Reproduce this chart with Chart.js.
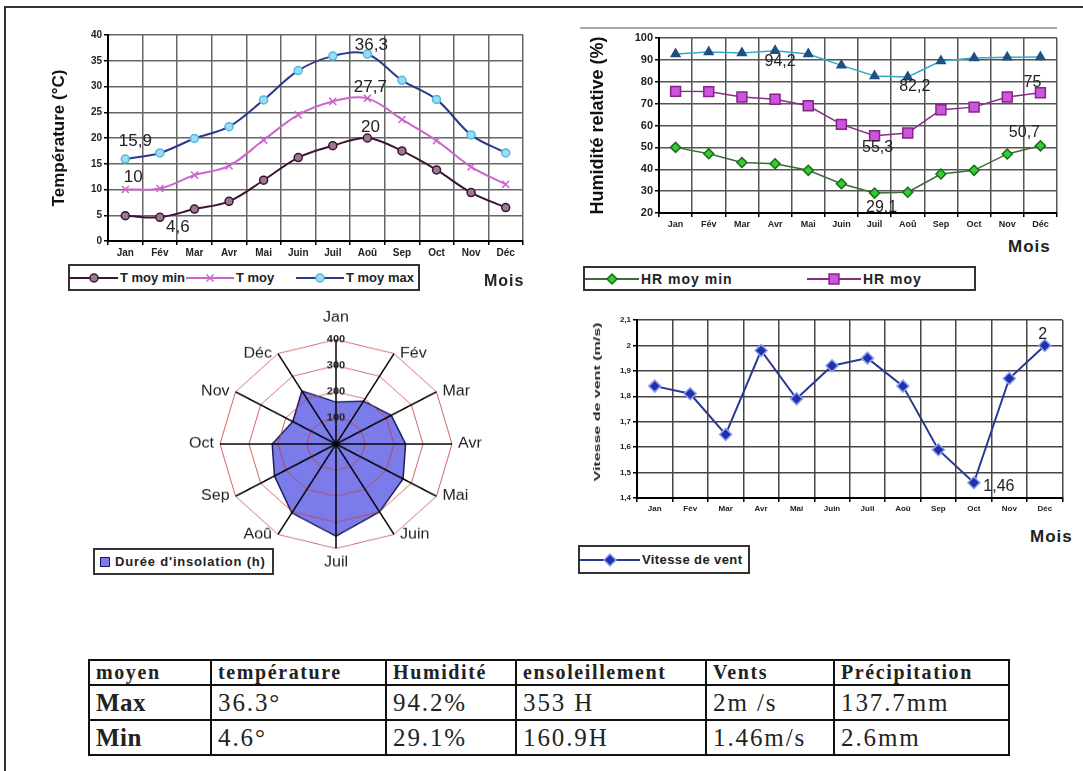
<!DOCTYPE html>
<html lang="fr">
<head>
  <meta charset="UTF-8" />
  <title>Synthèse climatique mensuelle</title>
  <script src="https://cdn.jsdelivr.net/npm/chart.js"></script>
  <style>
    body { margin: 0; width: 1083px; height: 771px; position: relative; overflow: hidden; background: #fff;
           font-family: Arial, "Liberation Sans", sans-serif; color: #222; }
    .cadre { position: absolute; left: 4px; top: 6px; width: 1100px; height: 800px; border: 2px solid #333; }
    .bloc { position: absolute; }
    .ovale { transform: scale(1, 0.9); transform-origin: 50% 50%; }
    .trait { position: absolute; height: 2px; background: #aaa; }
    .legende { position: absolute; box-sizing: border-box; border: 2px solid #333; background: #fff;
               display: flex; align-items: center; font-size: 13px; font-weight: bold; white-space: nowrap; overflow: hidden; }
    .legende .item { display: flex; align-items: center; flex: none; }
    .legende canvas { margin-right: 2px; }
    .mois { position: absolute; font-weight: bold; font-size: 16px; letter-spacing: 1px; }
    .titreVent { position: absolute; left: 597px; top: 402px; font-size: 8px; font-weight: bold; white-space: nowrap;
                 transform: translate(-50%, -50%) rotate(-90deg) scale(2, 1.1); }
    table { position: absolute; left: 88px; top: 659px; border-collapse: collapse; border: 2px solid #111;
            font-family: "Liberation Serif", "Times New Roman", serif; table-layout: fixed; }
    td, th { border: 2px solid #111; padding: 0 0 0 6px; text-align: left; overflow: hidden; white-space: nowrap; }
    th { font-size: 20px; font-weight: bold; height: 23px; letter-spacing: 1.6px; }
    td { font-size: 25px; height: 33px; letter-spacing: 1.9px; }
    td.tete { font-weight: bold; letter-spacing: 0.5px; }
  </style>
</head>
<body>
  <div class="cadre"></div>
  <div class="trait" style="left:580px; top:27px; width:477px;"></div>

  <div class="bloc" style="left:45px; top:22px; width:495px; height:250px;"><canvas id="grTemp"></canvas></div>
  <div class="bloc" style="left:585px; top:25px; width:485px; height:210px;"><canvas id="grHum"></canvas></div>
  <div class="bloc ovale" style="left:166px; top:274px; width:340px; height:340px;"><canvas id="grInso"></canvas></div>
  <div class="bloc" style="left:580px; top:310px; width:490px; height:210px;"><canvas id="grVent"></canvas></div>
  <div class="titreVent">Vitesse de vent (m/s)</div>

  <div class="legende" id="legTemp" style="left:68px; top:264px; width:352px; height:27px;"></div>
  <div class="legende" id="legHum" style="left:583px; top:266px; width:393px; height:25px; font-size:14px; letter-spacing:1px;"></div>
  <div class="legende" id="legInso" style="left:93px; top:548px; width:181px; height:27px; letter-spacing:0.8px;"></div>
  <div class="legende" id="legVent" style="left:578px; top:545px; width:172px; height:29px; letter-spacing:0.4px;"></div>

  <div class="mois" style="left:484px; top:272px;">Mois</div>
  <div class="mois" style="left:1008px; top:237px; font-size:17px;">Mois</div>
  <div class="mois" style="left:1030px; top:527px; font-size:17px;">Mois</div>

  <table id="tableau"></table>

  <script>
    // données
    const mois = ['Jan', 'Fév', 'Mar', 'Avr', 'Mai', 'Juin', 'Juil', 'Aoû', 'Sep', 'Oct', 'Nov', 'Déc'];

    const nomsTemp = ['T moy min', 'T moy', 'T moy max'];
    const tMin = [4.9, 4.6, 6.2, 7.7, 11.8, 16.2, 18.5, 20, 17.5, 13.8, 9.4, 6.5];
    const tMoy = [10, 10.2, 12.8, 14.6, 19.6, 24.5, 27.1, 27.7, 23.6, 19.5, 14.4, 11];
    const tMax = [15.9, 17.1, 19.9, 22.2, 27.4, 33.1, 35.9, 36.3, 31.2, 27.5, 20.6, 17.1];

    const nomsHum = ['HR moy min', 'HR moy', 'HR moy max'];
    const hrMin = [50, 47.1, 43.1, 42.5, 39.5, 33.4, 29.1, 29.5, 37.8, 39.5, 47, 50.7];
    const hrMoy = [75.6, 75.5, 73, 72, 69, 60.5, 55.3, 56.6, 67.2, 68.4, 73, 75];
    const hrMax = [92.7, 93.6, 93.2, 94.2, 92.7, 87.5, 82.6, 82.2, 89.5, 90.9, 91.2, 91.3];

    const nomInso = "Durée d'insolation (h)";
    const insolation = [160.9, 190, 220, 240, 267, 300, 353, 305, 245, 220, 172, 235];

    const nomVent = 'Vitesse de vent';
    const vent = [1.84, 1.81, 1.65, 1.98, 1.79, 1.92, 1.95, 1.84, 1.59, 1.46, 1.87, 2];

    const colonnes = ['moyen', 'température', 'Humidité', 'ensoleillement', 'Vents', 'Précipitation'];
    const ligneMax = ['Max', '36.3°', '94.2%', '353 H', '2m /s', '137.7mm'];
    const ligneMin = ['Min', '4.6°', '29.1%', '160.9H', '1.46m/s', '2.6mm'];
    const largeurs = [122, 175, 130, 190, 128, 175];

    const virgule = v => String(Math.round(v * 100) / 100).replace('.', ',');

    // étiquettes de valeurs posées à côté de certains points
    const etiquettes = {
      id: 'etiquettes',
      afterDatasetsDraw(chart, args, opts) {
        const ctx = chart.ctx;
        (opts.items || []).forEach(it => {
          const pt = chart.getDatasetMeta(it.ds).data[it.i];
          const v = chart.data.datasets[it.ds].data[it.i];
          ctx.save();
          ctx.font = opts.font;
          ctx.fillStyle = '#222';
          ctx.textAlign = 'center';
          ctx.textBaseline = 'middle';
          ctx.fillText(virgule(v), pt.x + it.dx, pt.y + it.dy);
          ctx.restore();
        });
      }
    };

    // noms des mois autour du radar, posés comme dans Excel (centrés sur le sommet)
    const moisRadar = {
      id: 'moisRadar',
      afterDraw(chart, args, opts) {
        const r = chart.scales.r, ctx = chart.ctx;
        ctx.save();
        ctx.font = opts.font;
        ctx.fillStyle = '#222';
        chart.data.labels.forEach((lab, i) => {
          const p = r.getPointPosition(i, r.drawingArea);
          const a = r.getIndexAngle(i);
          const s = Math.sin(a);
          if (Math.abs(s) < 0.01) {
            const haut = Math.cos(a) > 0;
            ctx.textAlign = 'center';
            ctx.textBaseline = haut ? 'bottom' : 'top';
            ctx.fillText(lab, p.x, haut ? p.y - opts.ecartHaut : p.y + opts.ecartBas);
          } else {
            ctx.textAlign = s > 0 ? 'left' : 'right';
            ctx.textBaseline = 'middle';
            ctx.fillText(lab, p.x + (s > 0 ? opts.ecart : -opts.ecart), p.y);
          }
        });
        ctx.restore();
      }
    };

    function serie(label, data, ligne, fond, bord, forme, rayon, courbe) {
      return {
        label, data,
        borderColor: ligne, borderWidth: 2,
        pointBackgroundColor: fond, pointBorderColor: bord, pointBorderWidth: 1.5,
        pointStyle: forme, pointRadius: rayon,
        tension: courbe || 0, fill: false
      };
    }

    function axeX(taille, hauteur, grille) {
      return {
        type: 'category', offset: true,
        grid: { offset: true, color: grille, lineWidth: 1.5, tickLength: 4, tickColor: '#000' },
        border: { color: '#000', width: 2 },
        ticks: { font: { size: taille, weight: 'bold' }, color: '#222', maxRotation: 0, autoSkip: false, padding: 2 },
        afterFit: s => { s.height = hauteur; }
      };
    }

    function axeY(min, max, pas, titre, tailleTicks, tailleTitre, largeur, grille, format) {
      return {
        min, max,
        grid: { color: grille, lineWidth: 1.5, tickLength: 4, tickColor: '#000' },
        border: { color: '#000', width: 2 },
        ticks: { stepSize: pas, font: { size: tailleTicks, weight: 'bold' }, color: '#222', padding: 2,
                 callback: format || (v => v) },
        title: { display: !!titre, text: titre, font: { size: tailleTitre, weight: 'bold' }, color: '#111',
                 padding: { top: 0, bottom: 2 } },
        afterFit: s => { s.width = largeur; }
      };
    }

    function baseOptions(padding) {
      return {
        responsive: true, maintainAspectRatio: false, animation: false,
        layout: { padding },
        plugins: { legend: { display: false }, tooltip: { enabled: false } }
      };
    }

    // petit dessin de légende : trait + marqueur
    function glyphe(ds, largeur) {
      const c = document.createElement('canvas');
      c.width = largeur; c.height = 16;
      const g = c.getContext('2d');
      g.strokeStyle = ds.borderColor; g.lineWidth = 2;
      g.beginPath(); g.moveTo(0, 8); g.lineTo(largeur, 8); g.stroke();
      g.fillStyle = ds.pointBackgroundColor; g.strokeStyle = ds.pointBorderColor;
      g.lineWidth = ds.pointBorderWidth;
      Chart.helpers.drawPoint(g, { pointStyle: ds.pointStyle, radius: ds.pointRadius, borderWidth: ds.pointBorderWidth, rotation: 0 }, largeur / 2, 8);
      return c;
    }

    function legende(id, datasets, largeursItems, largeurTrait) {
      const boite = document.getElementById(id);
      datasets.forEach((ds, k) => {
        const item = document.createElement('div');
        item.className = 'item';
        item.style.width = largeursItems[k] + 'px';
        item.appendChild(glyphe(ds, largeurTrait));
        const t = document.createElement('span');
        t.textContent = ds.label;
        item.appendChild(t);
        boite.appendChild(item);
      });
    }

    // --- Températures ---
    const dsTemp = [
      serie(nomsTemp[0], tMin, '#3d1434', '#9a7a92', '#3d1434', 'circle', 4, 0.35),
      serie(nomsTemp[1], tMoy, '#cc66cc', '#dd88dd', '#cc66cc', 'crossRot', 5, 0.35),
      serie(nomsTemp[2], tMax, '#2a3b8f', '#9adcf2', '#55b8e0', 'circle', 4, 0.35)
    ];
    const optTemp = baseOptions({ top: 13, right: 17, bottom: 0, left: 4 });
    optTemp.scales = {
      x: axeX(10, 31, '#666'),
      y: axeY(0, 40, 5, 'Température (°C)', 10, 17, 59, '#666')
    };
    optTemp.plugins.etiquettes = {
      font: '17px Arial',
      items: [
        { ds: 2, i: 0, dx: 10, dy: -18 },
        { ds: 1, i: 0, dx: 8, dy: -12 },
        { ds: 0, i: 1, dx: 18, dy: 10 },
        { ds: 2, i: 7, dx: 4, dy: -9 },
        { ds: 1, i: 7, dx: 3, dy: -11 },
        { ds: 0, i: 7, dx: 3, dy: -11 }
      ]
    };
    new Chart(document.getElementById('grTemp'), {
      type: 'line', data: { labels: mois, datasets: dsTemp }, options: optTemp, plugins: [etiquettes]
    });
    legende('legTemp', dsTemp, [116, 110, 130], 48);

    // --- Humidité ---
    const dsHum = [
      serie(nomsHum[0], hrMin, '#3d6b3d', '#33cc33', '#1a6b1a', 'rectRot', 5),
      serie(nomsHum[1], hrMoy, '#8a2a8a', '#cc55dd', '#882288', 'rect', 7),
      serie(nomsHum[2], hrMax, '#33aacc', '#1f5080', '#1f5080', 'triangle', 5)
    ];
    dsHum.forEach(d => { d.borderWidth = 1.5; });
    const optHum = baseOptions({ top: 13, right: 13, bottom: 0, left: 2 });
    optHum.scales = {
      x: axeX(9, 22, '#555'),
      y: axeY(20, 100, 10, 'Humidité relative (%)', 11, 18, 72, '#555')
    };
    optHum.plugins.etiquettes = {
      font: '16px Arial',
      items: [
        { ds: 2, i: 3, dx: 5, dy: 11 },
        { ds: 2, i: 7, dx: 7, dy: 10 },
        { ds: 1, i: 11, dx: -8, dy: -10 },
        { ds: 1, i: 6, dx: 3, dy: 12 },
        { ds: 0, i: 6, dx: 7, dy: 14 },
        { ds: 0, i: 11, dx: -16, dy: -13 }
      ]
    };
    new Chart(document.getElementById('grHum'), {
      type: 'line', data: { labels: mois, datasets: dsHum }, options: optHum, plugins: [etiquettes]
    });
    legende('legHum', dsHum.slice(0, 2), [222, 160], 54);

    // --- Insolation ---
    const dsInso = {
      label: nomInso, data: insolation, fill: true,
      backgroundColor: '#7b7bea', borderColor: '#1c1c5c', borderWidth: 1.5, pointRadius: 0
    };
    new Chart(document.getElementById('grInso'), {
      type: 'radar',
      data: { labels: mois, datasets: [dsInso] },
      options: {
        responsive: true, maintainAspectRatio: false, animation: false,
        layout: { padding: 46 },
        plugins: {
          legend: { display: false }, tooltip: { enabled: false },
          moisRadar: { font: '16px Arial', ecart: 6, ecartHaut: 16, ecartBas: 8 }
        },
        scales: {
          r: {
            min: 0, max: 400,
            ticks: { z: 1, stepSize: 100, showLabelBackdrop: false, font: { size: 11, weight: 'bold' }, color: '#222' },
            grid: { z: 1, color: 'rgba(200, 60, 60, 0.8)', lineWidth: 1 },
            angleLines: { color: '#000', lineWidth: 1.5 },
            pointLabels: { display: false }
          }
        }
      },
      plugins: [moisRadar]
    });
    (function () {
      const boite = document.getElementById('legInso');
      const item = document.createElement('div');
      item.className = 'item';
      item.style.paddingLeft = '5px';
      const carre = document.createElement('span');
      carre.style.cssText = 'display:inline-block;width:8px;height:8px;margin-right:5px;border:1.5px solid #1c1c5c;background:' + dsInso.backgroundColor;
      item.appendChild(carre);
      const t = document.createElement('span');
      t.textContent = dsInso.label;
      item.appendChild(t);
      boite.appendChild(item);
    })();

    // --- Vent ---
    const dsVent = [serie(nomVent, vent, '#2b3990', '#1e2fb0', '#8fa0ee', 'rectRot', 6)];
    const optVent = baseOptions({ top: 10, right: 7, bottom: 0, left: 5 });
    optVent.scales = {
      x: axeX(8, 22, '#444'),
      y: axeY(1.4, 2.1, 0.1, '', 8, 8, 52, '#444', v => virgule(v))
    };
    optVent.plugins.etiquettes = {
      font: '16px Arial',
      items: [
        { ds: 0, i: 11, dx: -2, dy: -11 },
        { ds: 0, i: 9, dx: 25, dy: 4 }
      ]
    };
    new Chart(document.getElementById('grVent'), {
      type: 'line', data: { labels: mois, datasets: dsVent }, options: optVent, plugins: [etiquettes]
    });
    legende('legVent', dsVent, [170], 60);

    // --- Tableau ---
    const tab = document.getElementById('tableau');
    const cg = document.createElement('colgroup');
    largeurs.forEach(w => { const c = document.createElement('col'); c.style.width = w + 'px'; cg.appendChild(c); });
    tab.appendChild(cg);
    const trh = document.createElement('tr');
    colonnes.forEach(c => { const th = document.createElement('th'); th.textContent = c; trh.appendChild(th); });
    tab.appendChild(trh);
    [ligneMax, ligneMin].forEach(l => {
      const tr = document.createElement('tr');
      l.forEach((c, k) => {
        const td = document.createElement('td');
        td.textContent = c;
        if (k === 0) td.className = 'tete';
        tr.appendChild(td);
      });
      tab.appendChild(tr);
    });
  </script>
</body>
</html>
